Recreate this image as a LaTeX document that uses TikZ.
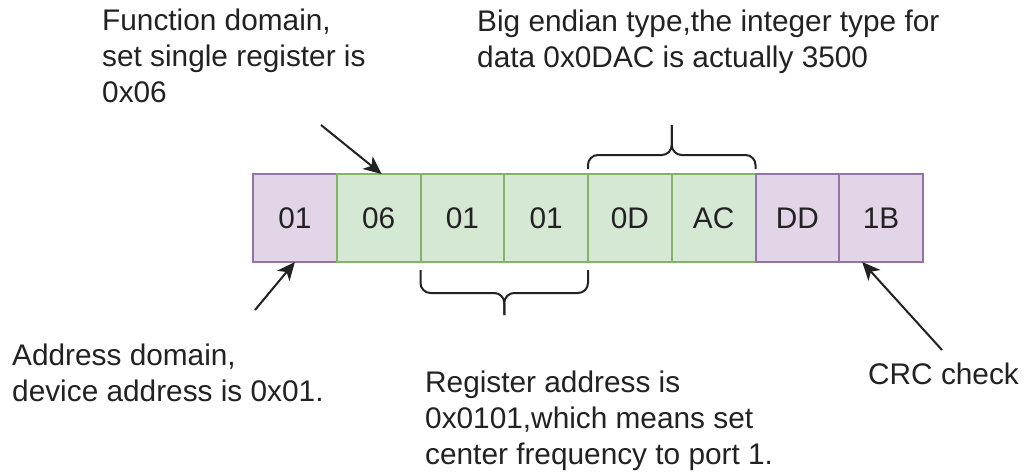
\documentclass[tikz,border=0pt]{standalone}
\usepackage{fontspec}
\setmainfont{Liberation Sans}
\usetikzlibrary{arrows.meta,calc}
\definecolor{purplefill}{HTML}{E1D5E7}
\definecolor{purpleline}{HTML}{9673A6}
\definecolor{greenfill}{HTML}{D5E8D4}
\definecolor{greenline}{HTML}{82B366}
\definecolor{inkgray}{HTML}{222222}
\begin{document}
\begin{tikzpicture}[x=1pt,y=-1pt,
  font=\fontsize{29.8}{36}\selectfont,text=inkgray,
  cell/.style={line width=2,outer sep=0,inner sep=0,
    minimum width=83.75,minimum height=88},
  purplecell/.style={cell,fill=purplefill,draw=purpleline},
  greencell/.style={cell,fill=greenfill,draw=greenline},
  note/.style={anchor=base west,align=left,inner sep=0},
  pointer/.style={line width=2,inkgray,-{Stealth[length=18,width=16,inset=5]}},
  bracket/.style={line width=2,inkgray,rounded corners=10}]
  \useasboundingbox[fill=white] (0,0) rectangle (1025,472);
  % the eight bytes of the frame
  \foreach \lbl/\kind [count=\i] in {01/purplecell,06/greencell,01/greencell,01/greencell,
                                      0D/greencell,AC/greencell,DD/purplecell,1B/purplecell}
    \node[\kind] (c\i) at ({253+83.75*(\i-0.5)},218) {\lbl};
  % notes (placed at the baseline of their last line)
  \node[note] (func) at (102,102) {Function domain,\\set single register is\\0x06};
  \node[note] (endian) at (477,67) {Big endian type,the integer type for\\data 0x0DAC is actually 3500};
  \node[note] (addr) at (12,401) {Address domain,\\device address is 0x01.};
  \node[note] (reg) at (425,464) {Register address is\\0x0101,which means set\\center frequency to port 1.};
  \node[note] (crc) at (868,384) {CRC check};
  % arrows
  \coordinate (functail) at (321,125);
  \coordinate (addrtail) at (255,310);
  \coordinate (crctail) at (942,350);
  \draw[pointer] (functail) -- ([xshift=3]c2.north);
  \draw[pointer] (addrtail) -- (c1.south);
  \draw[pointer] (crctail) -- ([xshift=23]c8.south west);
  % braces
  \draw[bracket] ($(c3.south west)+(0,8)$) |- ($(c3.south east)+(0,31)$) -- ($(c3.south east)+(0,53)$);
  \draw[bracket] ($(c4.south east)+(0,8)$) |- ($(c3.south east)+(0,31)$) -- ($(c3.south east)+(0,53)$);
  \draw[bracket] ($(c5.north west)+(0,-5)$) |- ($(c5.north east)+(0,-19)$) -- ($(c5.north east)+(0,-49)$);
  \draw[bracket] ($(c6.north east)+(0,-5)$) |- ($(c5.north east)+(0,-19)$) -- ($(c5.north east)+(0,-49)$);
\end{tikzpicture}
\end{document}
